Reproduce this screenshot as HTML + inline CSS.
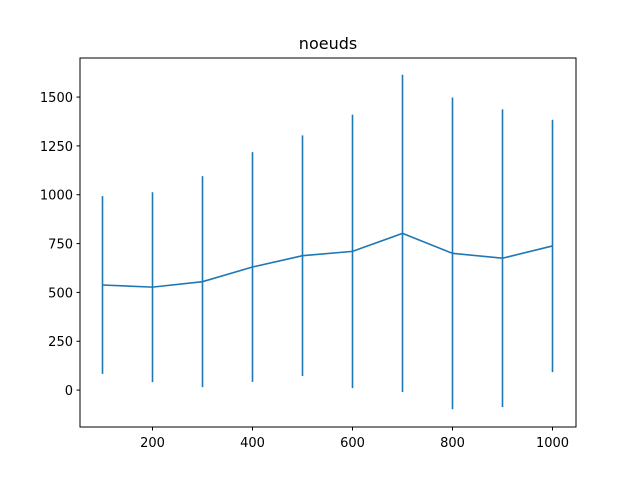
<!DOCTYPE html>
<html><head><meta charset="utf-8"><style>body{margin:0;background:#fff}svg{display:block;font-family:"DejaVu Sans","Liberation Sans",sans-serif}</style></head>
<body>
<svg id="chart" width="640" height="480">
<rect width="640" height="480" fill="#fff"/>
<text x="328" y="49" font-size="16" text-anchor="middle">noeuds</text>
<g id="plot"></g>
<rect x="80" y="58" width="496" height="369" fill="none" stroke="#000" stroke-width="1"/>
</svg>
<script>
const categories=[100,200,300,400,500,600,700,800,900,1000];
const means=[538,527,555,630,688,710,802,700,675,738];
const errors=[455,486,540,588,616,700,812,798,762,646];
const xTicks=[200,400,600,800,1000];
const yTicks=[0,250,500,750,1000,1250,1500];
const NS='http://www.w3.org/2000/svg';
const X0=80,X1=576,Y0=427,Y1=58,xmin=55,xmax=1047,ymin=-189,ymax=1700;
const sx=v=>X0+(v-xmin)/(xmax-xmin)*(X1-X0);
const sy=v=>Y0-(v-ymin)/(ymax-ymin)*(Y0-Y1);
const g=document.getElementById('plot');
function mk(t,a){const e=document.createElementNS(NS,t);for(const k in a)e.setAttribute(k,a[k]);g.appendChild(e);return e;}
xTicks.forEach(v=>{
 const l=mk('line',{x1:sx(v),x2:sx(v),y1:Y0,y2:Y0+3.5,stroke:'#000'});
 
 
 const t=mk('text',{x:sx(v),y:Y0+20,'font-size':13,'text-anchor':'middle'});t.textContent=v;
 
 
});
yTicks.forEach(v=>{
 const l=mk('line',{x1:X0-3.5,x2:X0,y1:sy(v),y2:sy(v),stroke:'#000'});
 
 
 const t=mk('text',{x:X0-7,y:sy(v)+5,'font-size':13,'text-anchor':'end'});t.textContent=v;
 
 
});
categories.forEach((c,i)=>{
 const l=mk('line',{x1:sx(c),x2:sx(c),y1:sy(means[i]-errors[i]),y2:sy(means[i]+errors[i]),stroke:'#1f77b4','stroke-width':1.6});
 
 
});
const p=mk('polyline',{points:categories.map((c,i)=>sx(c)+','+sy(means[i])).join(' '),fill:'none',stroke:'#1f77b4','stroke-width':1.6});


</script>
</body></html>
